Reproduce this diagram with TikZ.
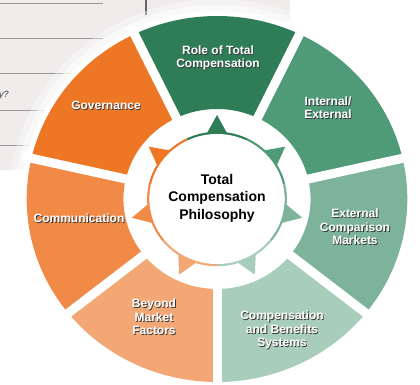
\documentclass[tikz,border=0pt]{standalone}
\usepackage{fontspec}
\setmainfont{Liberation Sans}
\definecolor{cA}{HTML}{2E7D57}
\definecolor{cB}{HTML}{4F9B78}
\definecolor{cC}{HTML}{7DB39B}
\definecolor{cD}{HTML}{A8CDBB}
\definecolor{cE}{HTML}{F3A775}
\definecolor{cF}{HTML}{F18A47}
\definecolor{cG}{HTML}{EE7726}
\definecolor{panel}{HTML}{EFECEC}
\definecolor{shade}{HTML}{3A3A3A}
\newcommand\shtext[1]{\leavevmode\rlap{\kern0.9pt\raisebox{-0.9pt}{\color{shade}\begin{tabular}{@{}c@{}}#1\end{tabular}}}{\color{white}\begin{tabular}{@{}c@{}}#1\end{tabular}}}
\tikzset{
  seglbl/.style={font=\bfseries\fontsize{12}{13.5}\selectfont, inner sep=0pt},
  ctrlbl/.style={font=\bfseries\fontsize{14}{17.5}\selectfont, align=center, text=black, inner sep=0pt},
  formline/.style={draw=black!40, line width=0.8pt}
}
\begin{document}
\begin{tikzpicture}[x=1pt,y=1pt]
\useasboundingbox (-217,-186) rectangle (203,199);
\fill[white] (-217,-186) rectangle (203,199);
% background form panel (image coordinates)
\begin{scope}[shift={(-217,199)},yscale=-1]
  \fill[panel] (0,0) rectangle (146,170);
  \fill[panel] (146,0) rectangle (290,22);
  \foreach \yy in {3,38,73,110,145} { \draw[formline] (0,\yy) -- (103,\yy); }
  \draw[black!60, line width=1.2pt] (146,0) -- (146,15);
  \node[anchor=west, font=\itshape\fontsize{9}{10}\selectfont, text=black!75, inner sep=0pt] (qmark) at (-1,95) {y?};
\end{scope}
% wheel
\begin{scope}[xscale=1.04]
  \fill[white, opacity=0.35] (0,0) circle (200);
  \fill[white, opacity=0.6] (0,0) circle (194);
  \fill[white] (0,0) circle (188);
  \foreach \c [count=\i from 0] in {cA,cB,cC,cD,cE,cF,cG} {
    \pgfmathsetmacro\a{90-51.4286*\i}
    \pgfmathsetmacro\s{\a-25.7143}
    \pgfmathsetmacro\e{\a+25.7143}
    \pgfmathsetmacro\tl{\a-10}
    \pgfmathsetmacro\tr{\a+10}
    \fill[\c] (\s:90) arc[start angle=\s, end angle=\e, radius=90] -- (\e:183) arc[start angle=\e, end angle=\s, radius=183] -- cycle;
    \fill[\c] (\tl:64) -- (\a:84) -- (\tr:64) -- cycle;
    \draw[\c, line width=2.5pt] (\s:66) arc[start angle=\s, end angle=\e, radius=66];
  }
  \foreach \i in {0,...,6} {
    \pgfmathsetmacro\b{90-51.4286*\i+25.7143}
    \draw[white, line width=9pt] (\b:87) -- (\b:192);
  }
  \fill[white] (0,0) circle (65);
\end{scope}
% labels (image coordinates)
\begin{scope}[shift={(-217,199)},yscale=-1]
  \node[seglbl] (role) at (218,59) {\shtext{Role of Total\\Compensation}};
  \node[seglbl] (intext) at (328,110) {\shtext{Internal/\\External}};
  \node[seglbl] (extcomp) at (355,229) {\shtext{External\\Comparison\\Markets}};
  \node[seglbl] (cbs) at (282,331) {\shtext{Compensation\\and Benefits\\Systems}};
  \node[seglbl] (beyond) at (154,319) {\shtext{Beyond\\Market\\Factors}};
  \node[seglbl] (comm) at (79,220) {\shtext{Communication}};
  \node[seglbl] (gov) at (106,107) {\shtext{Governance}};
  \node[ctrlbl] (philo) at (217,198) {Total\\Compensation\\Philosophy};
\end{scope}
\end{tikzpicture}
\end{document}
